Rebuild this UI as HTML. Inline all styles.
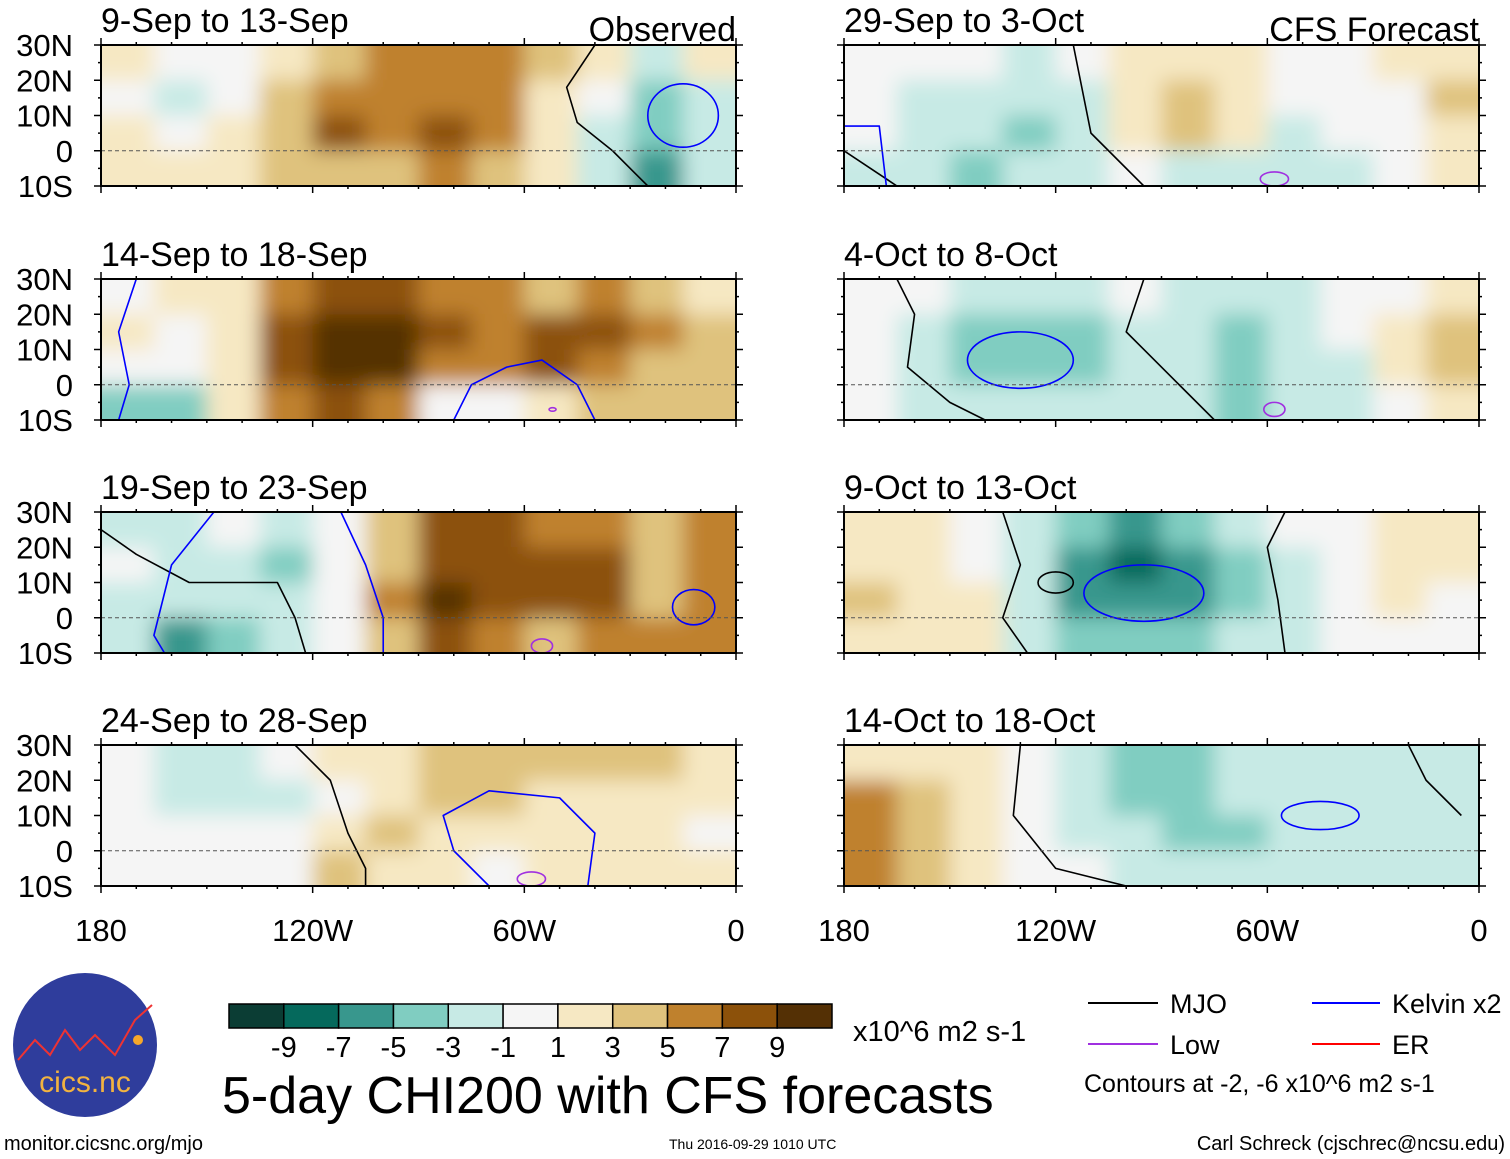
<!DOCTYPE html>
<html><head><meta charset="utf-8">
<style>
body{margin:0;background:#fff;width:1510px;height:1159px;overflow:hidden;font-family:"Liberation Sans",sans-serif;}
svg{position:absolute;left:0;top:0}
</style></head>
<body>
<svg id="chart" width="1510" height="1159" xmlns="http://www.w3.org/2000/svg">
<defs>
<filter id="blur" x="-10%" y="-20%" width="120%" height="140%"><feGaussianBlur stdDeviation="10"/></filter>
</defs>
</svg>
<script>
// Data: CHI200 anomaly grid (x10^6 m2 s-1), 12 longitude bins (180 -> 0, 15 deg each), 4 latitude rows (30N -> 10S)
const panelTitles = ["9-Sep to 13-Sep","14-Sep to 18-Sep","19-Sep to 23-Sep","24-Sep to 28-Sep","29-Sep to 3-Oct","4-Oct to 8-Oct","9-Oct to 13-Oct","14-Oct to 18-Oct"];
const p1Values = [[1,-1,0,2,4,5,5,5,4,1,-2,1],[0,-2,0,3,6,6,6,6,2,-1,-4,-3],[1,0,1,4,7,6,7,5,1,-2,-5,-3],[2,1,2,3,4,4,5,3,1,-2,-6,-3]];
const p2Values = [[0,1,2,6,8,8,6,5,4,5,4,2],[1,0,2,7,10,9,7,6,7,8,5,3],[-1,0,2,7,10,10,6,6,7,6,4,3],[-4,-5,1,5,7,6,-1,0,2,4,4,3]];
const p3Values = [[-2,-2,-1,-2,0,3,7,7,6,6,3,5],[-1,-2,-2,-4,-1,4,8,8,8,8,4,5],[-2,-3,-3,-2,-1,5,9,8,8,7,4,5],[-3,-6,-5,-3,-1,3,7,5,4,5,5,6]];
const p4Values = [[-1,-2,-2,-1,1,2,4,4,3,3,3,2],[-1,-2,-3,-2,0,2,3,3,2,2,1,1],[0,-1,-1,0,2,3,1,2,1,1,1,0],[-1,0,0,-1,3,2,1,0,1,1,2,1]];
const p5Values = [[-1,-1,-1,-2,-1,1,2,1,-1,-1,1,2],[0,-2,-2,-3,-2,1,4,2,-1,-1,0,3],[-1,-2,-3,-4,-2,1,3,1,-2,-1,0,2],[-2,-3,-4,-3,-2,-1,-2,-3,-3,-2,-1,1]];
const p6Values = [[0,-1,-2,-2,-2,-1,-2,-3,-2,-1,0,2],[0,-2,-4,-5,-4,-2,-3,-4,-3,-1,1,3],[0,-2,-4,-5,-4,-2,-3,-4,-3,-2,1,3],[-1,-2,-3,-3,-3,-2,-3,-4,-3,-2,-1,1]];
const p7Values = [[1,1,0,-2,-5,-6,-4,-2,-1,0,2,1],[2,2,0,-3,-7,-8,-6,-4,-2,0,1,1],[3,2,1,-3,-6,-7,-6,-4,-3,-1,1,0],[2,2,1,-2,-4,-5,-4,-3,-2,-1,0,0]];
const p8Values = [[1,1,1,0,-2,-4,-4,-3,-2,-3,-3,-2],[5,3,2,0,-3,-4,-4,-3,-3,-3,-3,-3],[6,4,2,0,-2,-3,-4,-4,-3,-3,-3,-3],[5,3,2,-1,-1,-2,-3,-3,-3,-3,-3,-3]];
const latLabels = ["30N","20N","10N","0","10S"];
const lonLabels = ["180","120W","60W","0"];
const levelLabels = ["-9","-7","-5","-3","-1","1","3","5","7","9"];
const levelColors = ["#0b3d34","#05695c","#38978d","#80cdc1","#c7eae5","#f5f5f5","#f6e8c3","#dfc27d","#bf812d","#8c510a","#543005"];
// contour lines: [panelIndex, color, [[lonW,lat],...]]
const mjoLines = [[0,[[40,30],[48,18],[45,8],[35,0],[25,-10]]],[2,[[180,25],[170,18],[155,10],[130,10],[125,0],[122,-10]]],[3,[[125,30],[115,20],[110,5],[105,-5],[105,-10]]],[4,[[115,30],[112,15],[110,5],[100,-5],[95,-10]]],[4,[[180,0],[165,-10]]],[5,[[165,30],[160,20],[162,5],[150,-5],[140,-10]]],[5,[[95,30],[100,15],[85,0],[75,-10]]],[6,[[135,30],[130,15],[135,0],[128,-10]]],[6,[[55,-10],[57,5],[60,20],[55,30]]],[7,[[130,30],[132,10],[120,-5],[100,-10]]],[7,[[20,30],[15,20],[5,10]]]];
const kelvinLines = [[1,[[170,30],[175,15],[172,0],[175,-10]]],[1,[[80,-10],[75,0],[65,5],[55,7],[45,0],[40,-10]]],[2,[[148,30],[160,15],[165,-5],[162,-10]]],[2,[[112,30],[105,15],[100,0],[100,-10]]],[3,[[70,-10],[80,0],[83,10],[70,17],[50,15],[40,5],[42,-10]]],[4,[[180,7],[170,7],[168,-10]]]];
const kelvinEllipses = [[0,15,10,10,9],[2,12,3,6,5],[5,130,7,15,8],[6,95,7,17,8],[7,45,10,11,4]];
const lowEllipses = [[1,52,-7,1,0.5],[2,55,-8,3,2],[3,58,-8,4,2],[4,58,-8,4,2],[5,58,-7,3,2]];
const mjoEllipses = [[6,120,10,5,3]];

const allValues=[p1Values,p2Values,p3Values,p4Values,p5Values,p6Values,p7Values,p8Values];
const NS="http://www.w3.org/2000/svg";
const svg=document.getElementById('chart');
function mk(tag,attrs,parent){const e=document.createElementNS(NS,tag);for(const k in attrs)e.setAttribute(k,attrs[k]);(parent||svg).appendChild(e);return e;}
function colorFor(v){const lv=[-9,-7,-5,-3,-1,1,3,5,7,9];let i=0;while(i<lv.length&&v>=lv[i])i++;return levelColors[i];}
const PW=635,PH=141;
const colX=[101,844], rowY=[45,279,512,745];
function lonX(x0,lon){return x0+(180-lon)/180*PW;}
function latY(y0,lat){return y0+(30-lat)/40*PH;}
const clipGroups=[];

allValues.forEach((vals,p)=>{
  const x0=colX[Math.floor(p/4)], y0=rowY[p%4];
  const g=mk('g',{});
  
  
  const cid='clip'+p;
  const cp=mk('clipPath',{id:cid},svg.querySelector('defs'));
  mk('rect',{x:x0,y:y0,width:PW,height:PH},cp);
  const fg=mk('g',{'clip-path':'url(#'+cid+')'},g);
  clipGroups.push(fg);
  const inner=mk('g',{filter:'url(#blur)'},fg);
  const cw=PW/12, ch=PH/4;
  vals.forEach((row,r)=>row.forEach((v,c)=>{
    const cell=mk('rect',{x:x0+c*cw-(c==0?30:0),y:y0+r*ch-(r==0?30:0),width:cw+(c==0||c==11?30:0)+1,height:ch+(r==0||r==3?30:0)+1,fill:colorFor(v)},inner);
    
    
  }));
  const eq=mk('line',{x1:x0,x2:x0+PW,y1:latY(y0,0),y2:latY(y0,0),stroke:'#555','stroke-dasharray':'4,3','stroke-width':1},g);
  
  
  const fr=mk('rect',{x:x0,y:y0,width:PW,height:PH,fill:'none',stroke:'#000','stroke-width':2},g);
  
  
  for(let lon=180;lon>=0;lon-=10){const x=lonX(x0,lon);const L=(lon%60==0)?7:3;
    mk('line',{x1:x,x2:x,y1:y0,y2:y0-L,stroke:'#000','stroke-width':1.5},g);
    mk('line',{x1:x,x2:x,y1:y0+PH,y2:y0+PH+L,stroke:'#000','stroke-width':1.5},g);}
  for(let lat=30;lat>=-10;lat-=5){const y=latY(y0,lat);const L=(lat%10==0)?7:3;
    mk('line',{x1:x0,x2:x0-L,y1:y,y2:y,stroke:'#000','stroke-width':1.5},g);
    mk('line',{x1:x0+PW,x2:x0+PW+L,y1:y,y2:y,stroke:'#000','stroke-width':1.5},g);}
  const t=mk('text',{x:x0,y:y0-13,'font-size':34,fill:'#000'},g);t.textContent=panelTitles[p];
  
  
  if(p%4==0){const s=mk('text',{x:x0+PW,y:y0-4,'font-size':34,'text-anchor':'end'},g);s.textContent=p<4?'Observed':'CFS Forecast';
    
    }
  if(p<4){latLabels.forEach((l,i)=>{const y=latY(y0,30-i*10);const tt=mk('text',{x:73,y:y+11,'font-size':31,'text-anchor':'end'},g);tt.textContent=l;
    
    });}
  if(p%4==3){lonLabels.forEach((l,i)=>{const tt=mk('text',{x:x0+i*PW/3,y:941,'font-size':31,'text-anchor':'middle'},g);tt.textContent=l;
    
    });}
});

function pt(p,lon,lat){const x0=colX[Math.floor(p/4)], y0=rowY[p%4];return [lonX(x0,lon),latY(y0,lat)];}
function drawLines(list,color,name){list.forEach(([p,pts])=>{
  const s=pts.map(q=>pt(p,q[0],q[1]).join(',')).join(' ');
  const l=mk('polyline',{points:s,fill:'none',stroke:color,'stroke-width':1.6,'stroke-linejoin':'round'},clipGroups[p]);
  
  });}
function drawEll(list,color,name){list.forEach(([p,lon,lat,rl,rt])=>{
  const c=pt(p,lon,lat);
  const e=mk('ellipse',{cx:c[0],cy:c[1],rx:rl/180*PW,ry:rt/40*PH,fill:'none',stroke:color,'stroke-width':1.6},clipGroups[p]);
  
  });}
drawLines(mjoLines,'#000','mjo-contour');
drawLines(kelvinLines,'#0000ff','kelvin-contour');
drawEll(kelvinEllipses,'#0000ff','kelvin-contour');
drawEll(lowEllipses,'#a030e0','low-contour');
drawEll(mjoEllipses,'#000','mjo-contour');

const cbX=229,cbY=1004,cbW=603,cbH=24,sw=cbW/11;
levelColors.forEach((c,i)=>{const r=mk('rect',{x:cbX+i*sw,y:cbY,width:sw,height:cbH,fill:c,stroke:'#000','stroke-width':1.5});
  
  });
levelLabels.forEach((l,i)=>{const t=mk('text',{x:cbX+(i+1)*sw,y:1057,'font-size':29,'text-anchor':'middle'});t.textContent=l;
  
  });
</script>
<svg width="1510" height="1159" style="pointer-events:none" xmlns="http://www.w3.org/2000/svg">
<g>
<circle cx="85" cy="1045" r="72" fill="#2f3d9c"/>
<polyline points="18,1060 35,1040 50,1055 65,1030 80,1050 95,1035 115,1055 135,1020 152,1005" fill="none" stroke="#e33" stroke-width="2"/>
<circle cx="138" cy="1040" r="5" fill="#f6a72a"/>
<text x="85" y="1092" font-size="30" fill="#f2b340" text-anchor="middle">cics.nc</text>
</g>
<text x="853" y="1041" font-size="29">x10^6 m2 s-1</text>
<text x="222" y="1113" font-size="52">5-day CHI200 with CFS forecasts</text>
<text x="4" y="1150" font-size="20">monitor.cicsnc.org/mjo</text>
<text x="669" y="1149" font-size="14">Thu 2016-09-29 1010 UTC</text>
<text x="1505" y="1150" font-size="20" text-anchor="end">Carl Schreck (cjschrec@ncsu.edu)</text>
<g>
<line x1="1088" x2="1158" y1="1003" y2="1003" stroke="#000" stroke-width="2"/>
<text x="1170" y="1013" font-size="27">MJO</text>
<line x1="1088" x2="1158" y1="1044" y2="1044" stroke="#a030e0" stroke-width="2"/>
<text x="1170" y="1054" font-size="27">Low</text>
<line x1="1312" x2="1380" y1="1003" y2="1003" stroke="#0000ff" stroke-width="2"/>
<text x="1392" y="1013" font-size="27">Kelvin x2</text>
<line x1="1312" x2="1380" y1="1044" y2="1044" stroke="#ff0000" stroke-width="2"/>
<text x="1392" y="1054" font-size="27">ER</text>
<text x="1084" y="1092" font-size="25">Contours at -2, -6 x10^6 m2 s-1</text>
</g>
</svg>
</body></html>
